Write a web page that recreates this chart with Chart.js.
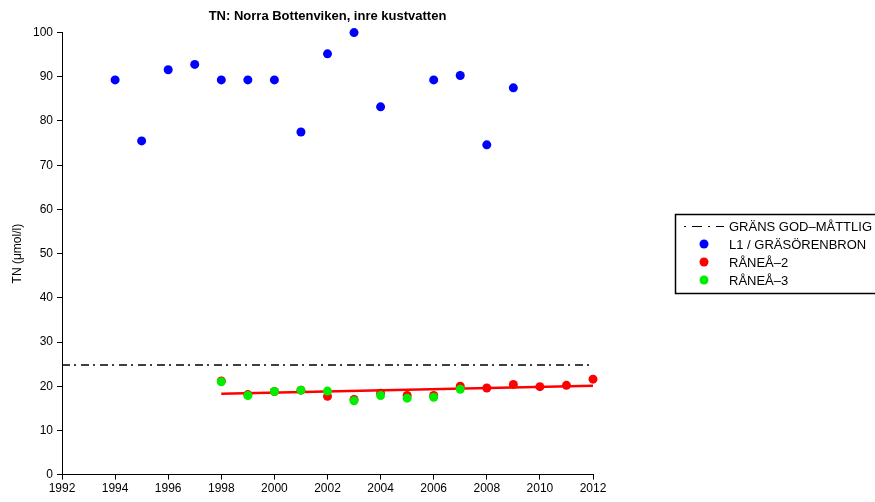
<!DOCTYPE html>
<html>
<head>
<meta charset="utf-8">
<script src="https://cdn.jsdelivr.net/npm/chart.js@4.4.1/dist/chart.umd.min.js"></script>
<style>
  html, body { margin: 0; padding: 0; background: #fff; }
  #wrap { width: 875px; height: 502px; }
</style>
</head>
<body>
<div id="wrap"><canvas id="tnChart"></canvas></div>
<script>
// years and values
const l1Years = [1994, 1995, 1996, 1997, 1998, 1999, 2000, 2001, 2002, 2003, 2004, 2006, 2007, 2008, 2009];
const l1Values = [89.3, 75.5, 91.6, 92.8, 89.3, 89.3, 89.3, 77.5, 95.2, 100, 83.2, 89.3, 90.3, 74.6, 87.5];

const rane2Years = [1998, 1999, 2000, 2001, 2002, 2003, 2004, 2005, 2006, 2007, 2008, 2009, 2010, 2011, 2012];
const rane2Values = [21.2, 18.1, 18.8, 19.1, 17.7, 17.0, 18.4, 17.9, 17.9, 20.0, 19.6, 20.4, 19.9, 20.2, 21.6];

const rane3Years = [1998, 1999, 2000, 2001, 2002, 2003, 2004, 2005, 2006, 2007];
const rane3Values = [21.0, 17.9, 18.8, 19.1, 18.9, 16.7, 17.9, 17.3, 17.5, 19.3];

const trendYears = [1998, 2012];
const trendValues = [18.3, 20.1];

const limitYears = [1992, 2012];
const limitValues = [24.8, 24.8];

const xTicks = [1992, 1994, 1996, 1998, 2000, 2002, 2004, 2006, 2008, 2010, 2012];
const yTicks = [0, 10, 20, 30, 40, 50, 60, 70, 80, 90, 100];

const legendLabels = ["GRÄNS GOD\u2013MÅTTLIG", "L1 / GRÄSÖRENBRON", "RÅNEÅ\u20132", "RÅNEÅ\u20133"];

const FONT = "'Liberation Sans', Arial, Helvetica, sans-serif";
const dashDot = [8, 4, 2, 5];

function pts(xs, ys) {
    return xs.map((x, i) => ({ x: x, y: ys[i] }));
}

// legend box drawn at the right, outside the plot
const legendBox = {
    id: "legendBox",
    afterDraw(chart) {
        const ctx = chart.ctx;
        const left = 675, top = 214, rowH = 18;
        ctx.save();
        ctx.strokeStyle = "#000";
        ctx.lineWidth = 1.5;
        ctx.strokeRect(left + 0.5, top + 0.5, 215, 79);
        ctx.font = "13px " + FONT;
        ctx.textBaseline = "middle";
        ctx.fillStyle = "#000";
        legendLabels.forEach((lab, i) => {
            const y = top + 12 + i * rowH;
            if (i === 0) {
                ctx.setLineDash([2, 6, 10, 6]);
                ctx.lineWidth = 1.2;
                ctx.beginPath();
                ctx.moveTo(684, y + 0.5);
                ctx.lineTo(724, y + 0.5);
                ctx.stroke();
                ctx.setLineDash([]);
            } else {
                ctx.beginPath();
                ctx.fillStyle = ["#0000ff", "#ff0000", "#00ee00"][i - 1];
                ctx.arc(704, y, 4.5, 0, Math.PI * 2);
                ctx.fill();
                ctx.fillStyle = "#000";
            }
            ctx.fillText(lab, 729, y + 1);
        });
        ctx.restore();
    }
};

const ctx = document.getElementById("tnChart").getContext("2d");

new Chart(ctx, {
    type: "scatter",
    data: {
        datasets: [
            {
                label: legendLabels[0],
                data: pts(limitYears, limitValues),
                showLine: true,
                borderColor: "#000",
                borderWidth: 1.3,
                borderDash: dashDot,
                pointRadius: 0,
                order: 5,
            },
            {
                label: legendLabels[1],
                data: pts(l1Years, l1Values),
                backgroundColor: "#0000ff",
                borderWidth: 0,
                pointRadius: 4.5,
                order: 4,
            },
            {
                label: legendLabels[2],
                data: pts(rane2Years, rane2Values),
                backgroundColor: "#ff0000",
                borderWidth: 0,
                pointRadius: 4.5,
                order: 3,
            },
            {
                label: "trend",
                data: pts(trendYears, trendValues),
                showLine: true,
                borderColor: "#ff0000",
                borderWidth: 2.5,
                pointRadius: 0,
                order: 2,
            },
            {
                label: legendLabels[3],
                data: pts(rane3Years, rane3Values),
                backgroundColor: "#00ee00",
                borderWidth: 0,
                pointRadius: 4.5,
                order: 1,
            },
        ],
    },
    options: {
        responsive: true,
        maintainAspectRatio: false,
        animation: false,
        clip: false,
        layout: {
            padding: { left: 10, right: 282, top: 0, bottom: 4 },
        },
        plugins: {
            legend: { display: false },
            tooltip: { enabled: false },
            title: {
                display: true,
                fullSize: false,
                text: "TN: Norra Bottenviken, inre kustvatten",
                color: "#000",
                font: { family: FONT, size: 13, weight: "bold" },
                padding: { top: 9, bottom: 8 },
            },
        },
        scales: {
            x: {
                type: "linear",
                min: 1992,
                max: 2012,
                afterBuildTicks(scale) {
                    scale.ticks = xTicks.map(v => ({ value: v }));
                },
                border: { color: "#000", width: 1 },
                grid: { drawOnChartArea: false, color: "#000", tickLength: 5 },
                ticks: {
                    color: "#000",
                    padding: 2,
                    maxRotation: 0,
                    font: { family: FONT, size: 12 },
                    callback: v => String(v),
                },
            },
            y: {
                min: 0,
                max: 100,
                afterBuildTicks(scale) {
                    scale.ticks = yTicks.map(v => ({ value: v }));
                },
                afterFit(scale) {
                    scale.width = 52;
                },
                border: { color: "#000", width: 1 },
                grid: { drawOnChartArea: false, color: "#000", tickLength: 5 },
                ticks: {
                    color: "#000",
                    padding: 4,
                    font: { family: FONT, size: 12 },
                },
                title: {
                    display: true,
                    text: "TN (μmol/l)",
                    color: "#000",
                    font: { family: FONT, size: 12 },
                    padding: { top: 0, bottom: 4 },
                },
            },
        },
    },
    plugins: [legendBox],
});
</script>
</body>
</html>
